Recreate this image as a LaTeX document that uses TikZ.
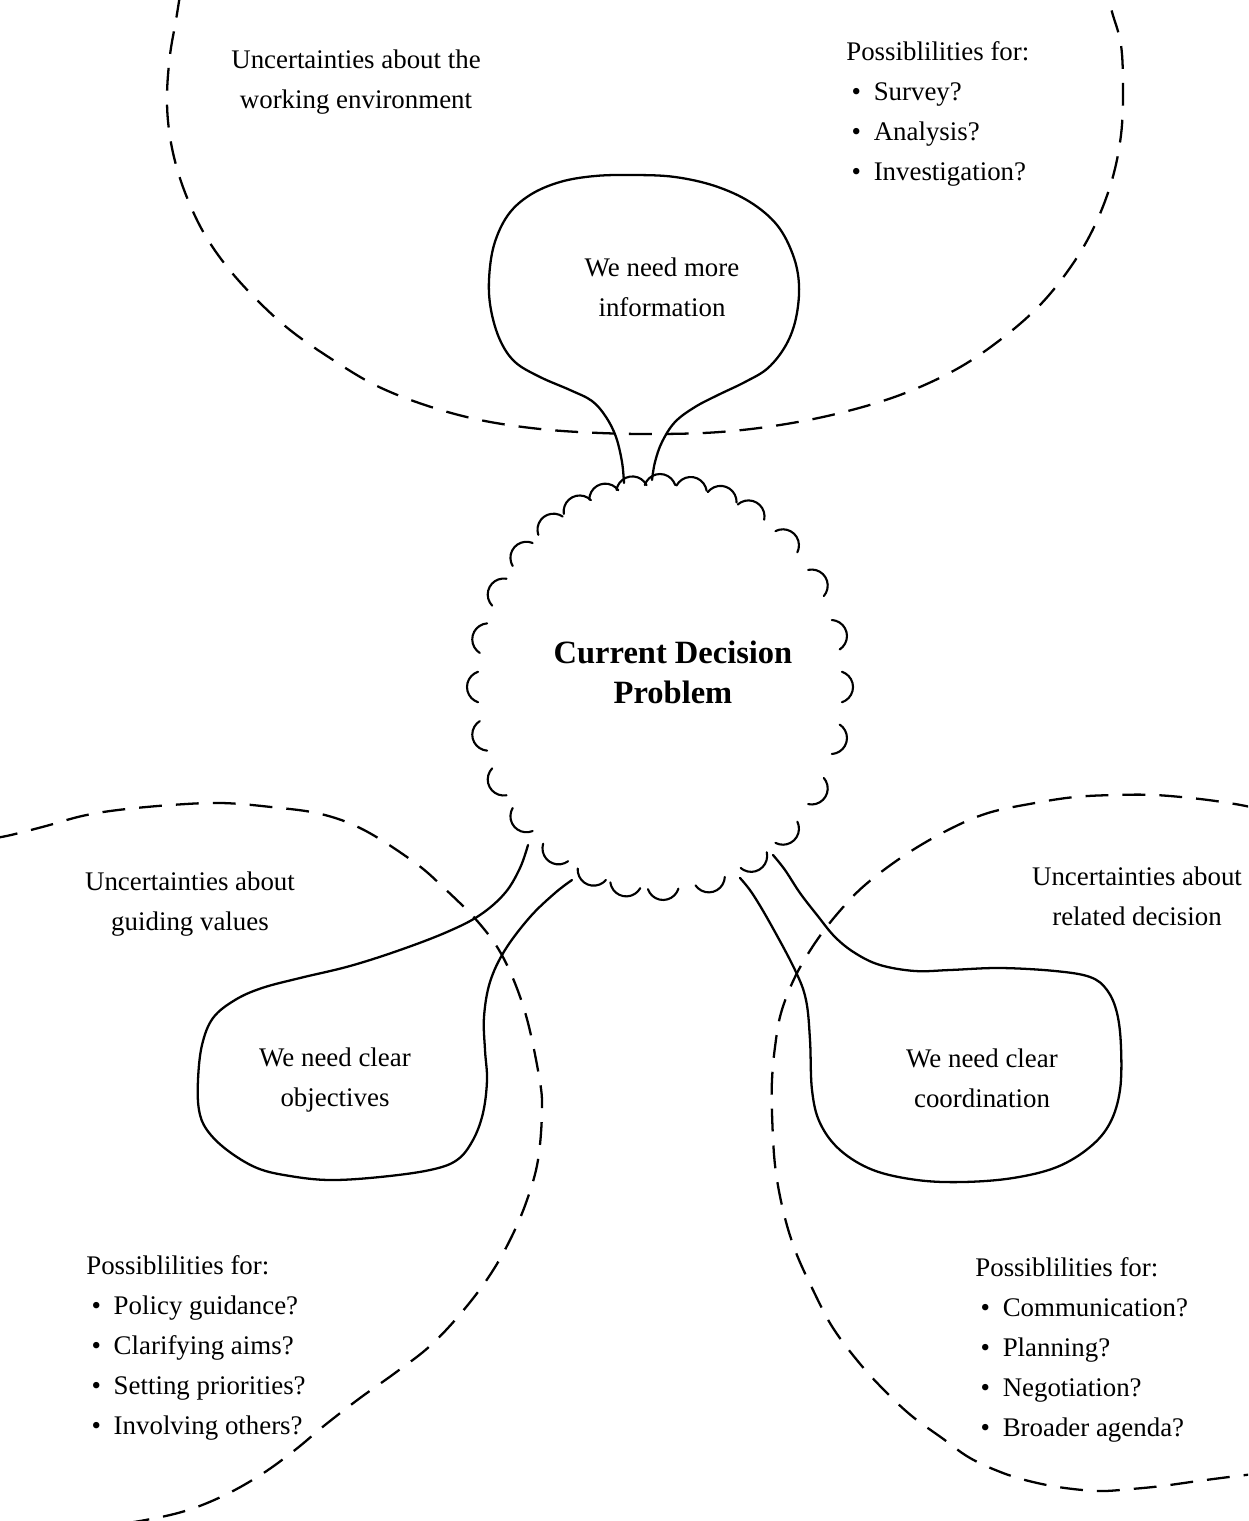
\documentclass[tikz,border=0pt]{standalone}
\usepackage{fontspec}
\setmainfont{Liberation Serif}
\usetikzlibrary{calc}
\newcommand\bulletitem[1]{\hspace*{3pt}\makebox[12.6pt][l]{\textbullet}#1}
\begin{document}
\begin{tikzpicture}[x=0.02cm,y=-0.02cm,
  region/.style={line width=1.3pt, dash pattern=on 13pt off 8pt},
  bubble/.style={line width=1.3pt, line join=round, line cap=round},
  scallop/.style={line width=1.2pt, line cap=round},
  areatext/.style={inner sep=0pt, font=\fontsize{15.3}{22.85}\selectfont, align=center, anchor=north},
  listtext/.style={inner sep=0pt, font=\fontsize{15.3}{22.85}\selectfont, align=left, anchor=north west},
  titletext/.style={inner sep=0pt, font=\bfseries\fontsize{18.5}{22.8}\selectfont, align=center, anchor=north}
]
\useasboundingbox (0,0) rectangle (1248,1521);
\clip (0,0) rectangle (1248,1521);

% dashed areas of uncertainty
\draw[region] plot[smooth, tension=0.6] coordinates {
  (180,-5) (176,20) (170,55) (167,95) (169,130) (176,165) (188,200) (205,235)
  (228,268) (257,300) (290,330) (330,358) (375,385) (425,405) (480,420)
  (540,429) (600,433) (660,434) (720,432) (780,425) (840,413) (900,395)
  (955,370) (1000,340) (1040,305) (1072,265) (1095,225) (1112,180) (1121,135)
  (1123,90) (1121,45) (1112,12) (1108,-5)};

\draw[region] plot[smooth, tension=0.6] coordinates {
  (-5,838) (11,835) (46,826) (82,816) (118,810) (171,805) (221,803) (271,807)
  (321,814) (364,830) (414,862) (443,887) (479,923) (504,959) (525,1012)
  (539,1076) (542,1110) (538,1160) (527,1200) (511,1238) (490,1275) (462,1312)
  (430,1346) (395,1373) (360,1398) (325,1425) (295,1450) (262,1474) (225,1495)
  (185,1511) (140,1521) (95,1527) (50,1532)};

\draw[region] plot[smooth, tension=0.6] coordinates {
  (1255,808) (1235,804) (1200,799) (1155,795) (1115,795) (1075,797) (1035,803)
  (988,813) (948,830) (905,855) (865,885) (838,913) (815,943) (795,977)
  (781,1013) (775,1047) (772,1080) (772,1113) (775,1165) (783,1210) (795,1250)
  (813,1290) (833,1328) (861,1365) (888,1394) (913,1417) (942,1438) (970,1458)
  (1003,1473) (1033,1482) (1065,1488) (1100,1491) (1131,1489) (1162,1486)
  (1198,1481) (1237,1476) (1255,1474)};

% thought bubbles growing out of the problem
\draw[bubble] plot[smooth, tension=0.6] coordinates {
  (624,483) (622,462) (616,437) (606,417) (592,401) (570,390) (540,377)
  (515,362) (500,340) (491,310) (489,280) (494,245) (508,215) (530,195)
  (560,182) (595,176) (635,175) (675,177) (715,186) (750,202) (777,225)
  (793,255) (799,285) (796,318) (786,345) (768,368) (745,382) (718,395)
  (695,407) (675,422) (662,442) (655,462) (652,480)};

\draw[bubble] plot[smooth, tension=0.6] coordinates {
  (528,845) (520,868) (505,893) (480,915) (447,932) (400,950) (350,966)
  (300,978) (262,988) (235,1000) (213,1018) (202,1045) (198,1080) (199,1110)
  (207,1130) (227,1150) (257,1168) (290,1176) (330,1180) (380,1177) (430,1170)
  (457,1160) (473,1140) (483,1113) (487,1080) (485,1050) (484,1017) (490,982)
  (505,950) (530,917) (555,893) (572,880)};

\draw[bubble] plot[smooth, tension=0.6] coordinates {
  (773,855) (785,870) (800,893) (817,915) (835,937) (855,953) (880,965)
  (915,971) (950,970) (1000,968) (1055,971) (1090,977) (1107,990) (1117,1013)
  (1121,1047) (1120,1090) (1110,1123) (1090,1147) (1057,1167) (1013,1178)
  (963,1182) (917,1180) (873,1170) (840,1150) (820,1123) (812,1090) (810,1040)
  (806,1000) (795,970) (770,923) (752,893) (740,878)};

% scalloped rim of the decision problem
\coordinate (hub) at (660,687);
\foreach \a [evaluate=\a as \as using \a-72, evaluate=\a as \ae using \a+72] in
  {243,252,261,270,280,290,300,314,329,345,0,15,31,46,59,74,89,101,112,125,139,152,166,180,194,208,221,233} {
  \draw[scallop] plot[smooth, variable=\t, domain=\as:\ae, samples=11]
    ({660+177*cos(\a)+16*cos(\t)}, {687+197*sin(\a)+16*sin(\t)});
}

% texts
\node[areatext] (envtitle) at (356,49.6) {Uncertainties about the\\working environment};
\node[listtext] (envlist) at (846,41) {Possiblilities for:\\\bulletitem{Survey?}\\\bulletitem{Analysis?}\\\bulletitem{Investigation?}};
\node[areatext] (info) at (662,257.6) {We need more\\information};
\node[titletext] (problem) at (673,640.5) {Current Decision\\Problem};
\node[areatext] (valtitle) at (190,871.6) {Uncertainties about\\guiding values};
\node[areatext] (reltitle) at (1137,866.6) {Uncertainties about\\related decision};
\node[areatext] (objectives) at (335,1047.6) {We need clear\\objectives};
\node[areatext] (coordination) at (982,1048.6) {We need clear\\coordination};
\node[listtext] (vallist) at (86,1255) {Possiblilities for:\\\bulletitem{Policy guidance?}\\\bulletitem{Clarifying aims?}\\\bulletitem{Setting priorities?}\\\bulletitem{Involving others?}};
\node[listtext] (rellist) at (975,1257) {Possiblilities for:\\\bulletitem{Communication?}\\\bulletitem{Planning?}\\\bulletitem{Negotiation?}\\\bulletitem{Broader agenda?}};
\end{tikzpicture}
\end{document}
